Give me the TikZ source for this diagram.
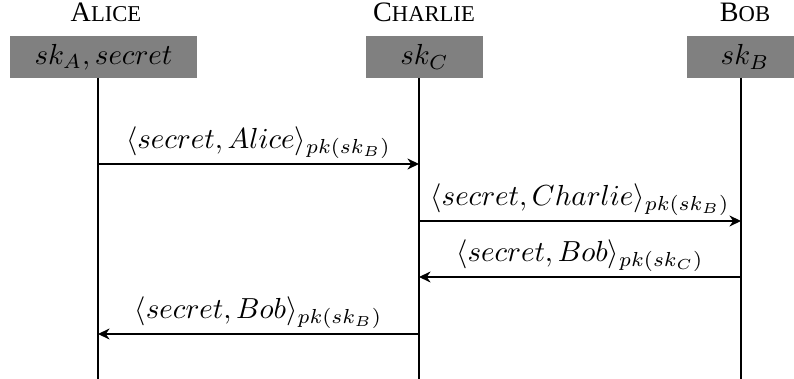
\documentclass[tikz,border=0pt]{standalone}
\usepackage{fontspec}
\setmainfont{Liberation Serif}
\usetikzlibrary{arrows.meta}
\newcommand\capname[2]{{\fontsize{9.7}{11}\selectfont #1}{\fontsize{7.8}{9}\selectfont #2}}
\tikzset{
  hdrbox/.style={fill=gray, inner sep=0pt, minimum height=14.5pt},
  hdrtitle/.style={anchor=base, inner sep=0pt},
  lifeline/.style={line width=0.4pt},
  msg/.style={line width=0.4pt, -{Stealth[length=4pt,width=3.8pt,inset=1.3pt]}},
  msglbl/.style={above, inner sep=1.6pt}
}
\begin{document}
\begin{tikzpicture}[x=0.3448pt,y=-0.3448pt]
\path[use as bounding box] (0,0) rectangle (794,379);
\clip (0,0) rectangle (794,379);
% titles
\node[hdrtitle] (tA) at (106,22) {\capname{A}{LICE}};
\node[hdrtitle] (tC) at (424,22) {\capname{C}{HARLIE}};
\node[hdrtitle] (tB) at (745,22) {\capname{B}{OB}};
% boxes
\node[hdrbox, minimum width=64.5pt] (bA) at (103.5,57) {$sk_A, secret$};
\node[hdrbox, minimum width=40.3pt] (bC) at (424.5,57) {$sk_C$};
\node[hdrbox, minimum width=40pt] (bB) at (745,57) {$sk_B$};
% lifelines
\coordinate (A0) at (98,78);  \coordinate (A1) at (98,379);
\coordinate (C0) at (419,78); \coordinate (C1) at (419,379);
\coordinate (B0) at (741,78); \coordinate (B1) at (741,379);
\draw[lifeline] (A0) -- (A1);
\draw[lifeline] (C0) -- (C1);
\draw[lifeline] (B0) -- (B1);
% message endpoints
\coordinate (m1a) at (98,164);  \coordinate (m1c) at (419,164);
\coordinate (m2c) at (419,221); \coordinate (m2b) at (741,221);
\coordinate (m3b) at (741,277); \coordinate (m3c) at (419,277);
\coordinate (m4c) at (419,334); \coordinate (m4a) at (98,334);
\draw[msg] (m1a) -- node[msglbl] {$\langle secret, Alice\rangle_{pk(sk_B)}$} (m1c);
\draw[msg] (m2c) -- node[msglbl] {$\langle secret, Charlie\rangle_{pk(sk_B)}$} (m2b);
\draw[msg] (m3b) -- node[msglbl] {$\langle secret, Bob\rangle_{pk(sk_C)}$} (m3c);
\draw[msg] (m4c) -- node[msglbl] {$\langle secret, Bob\rangle_{pk(sk_B)}$} (m4a);
\end{tikzpicture}
\end{document}
